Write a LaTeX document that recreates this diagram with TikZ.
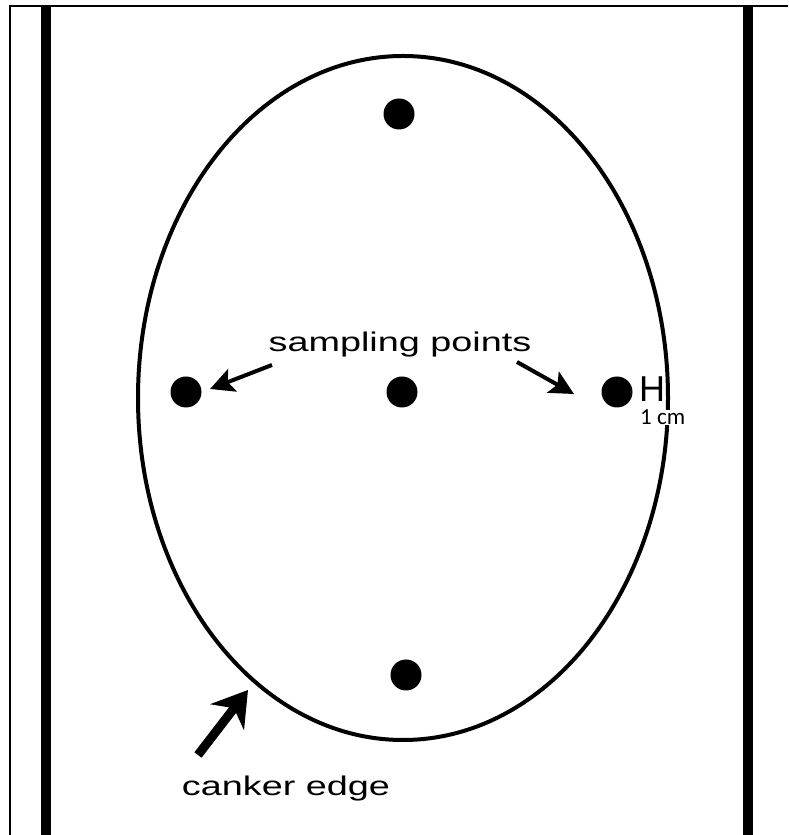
\documentclass[tikz,border=0pt]{standalone}
\usepackage{fontspec}
\setmainfont{Liberation Sans}
\newfontfamily\labelfont[FakeStretch=1.4]{Liberation Sans}
\newfontfamily\cmfont{Carlito}
\usetikzlibrary{arrows.meta, positioning}
\tikzset{
  sampdot/.style={circle, fill=black, minimum size=31pt, inner sep=0pt},
  wallline/.style={line width=10pt},
  lbl/.style={font=\labelfont\fontsize{27}{30}\selectfont, inner sep=0pt, anchor=base},
  pointer/.style={line width=4pt, -{Stealth[length=24pt, width=24pt, inset=5pt]}},
  bigpointer/.style={line width=9pt, -{Stealth[length=34pt, width=42pt, inset=11pt]}}
}

\begin{document}
\begin{tikzpicture}[x=1pt, y=1pt]
  \useasboundingbox (0,0) rectangle (788,835);
  % frame and walls
  \draw[line width=2.5pt] (10,0) -- (10,829) -- (788,829);
  \draw[wallline] (46,0) -- (46,828);
  \draw[wallline] (748,0) -- (748,828);
  % canker outline
  \draw[line width=4pt] (403,437) ellipse [x radius=265, y radius=342];
  % sampling points
  \node[sampdot] (top) at (399,721) {};
  \node[sampdot] (lft) at (186,443) {};
  \node[sampdot] (mid) at (402,443) {};
  \node[sampdot] (rgt) at (617,443) {};
  \node[sampdot] (bot) at (406,160) {};
  % labels
  \node[lbl] (spl) at (400,483) {sampling points};
  \node[lbl] (edge) at (286,39) {canker edge};
  \node[font=\fontsize{36}{40}\selectfont, inner sep=0pt, anchor=base] (bar) at (652,433) {H};
  \node[font=\cmfont\fontsize{23}{25}\selectfont, fill=white, inner sep=0pt, anchor=base west] (cm) at (640,410) {1 cm};
  % arrows
  \coordinate (la) at (272,470);
  \coordinate (lb) at (210,446);
  \coordinate (ra) at (517,473);
  \coordinate (rb) at (574,441);
  \coordinate (ea) at (198,80);
  \coordinate (eb) at (248,145);
  \draw[pointer] (la) -- (lb);
  \draw[pointer] (ra) -- (rb);
  \draw[bigpointer] (ea) -- (eb);
\end{tikzpicture}
\end{document}
